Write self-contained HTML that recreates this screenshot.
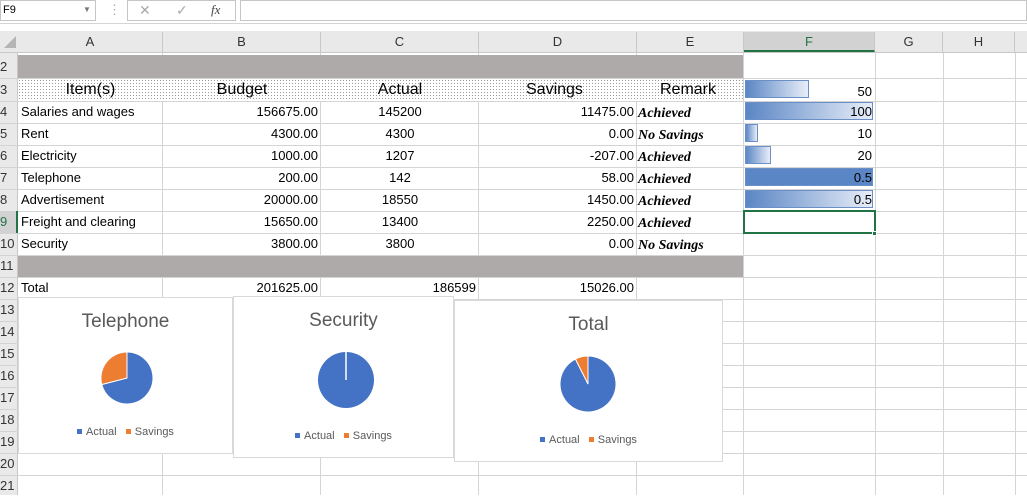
<!DOCTYPE html>
<html><head><meta charset="utf-8"><style>
*{margin:0;padding:0;box-sizing:border-box}
body{width:1027px;height:495px;overflow:hidden;background:#fff;font-family:"Liberation Sans",sans-serif;font-size:13px;color:#000;position:relative}
.a{position:absolute}
.vl{position:absolute;width:1px;background:#d4d4d4}
.hl{position:absolute;height:1px;background:#d4d4d4}
.t{position:absolute;white-space:nowrap;line-height:22px}
.r{text-align:right}
.c{text-align:center}
.rm{font-family:"Liberation Serif",serif;font-weight:bold;font-style:italic;font-size:14px}
.ch{position:absolute;top:32px;height:20px;line-height:20px;text-align:center;font-size:13px;color:#333;border-right:1px solid #c8c8c8}
.rn{position:absolute;left:0;width:18px;font-size:13px;color:#333;line-height:22px}
.bar{position:absolute;height:18px;border:1px solid #6b8fc7;background:linear-gradient(to right,#5b86c5,#e8eef8)}
.chart{position:absolute;background:#fff;border:1px solid #d9d9d9}
.ct{position:absolute;width:100%;text-align:center;font-size:19px;color:#595959}
.lg{position:absolute;width:100%;text-align:center;font-size:11px;color:#595959}
.sq{display:inline-block;width:5px;height:5px;margin-right:4px;vertical-align:1px}
</style></head><body>
<div class="a" style="left:0;top:0;width:1027px;height:24px;background:#fff;border-bottom:1px solid #d4d4d4"></div>
<div class="a" style="left:0;top:0;width:96px;height:21px;border:1px solid #c6c6c6"></div>
<div class="t" style="left:3px;top:-1px;font-size:11px;line-height:22px">F9</div>
<div class="t" style="left:83px;top:-1px;font-size:8px;color:#777">▼</div>
<div class="t" style="left:108px;top:-1px;color:#aaa">⋮</div>
<div class="a" style="left:127px;top:0;width:109px;height:21px;border:1px solid #c6c6c6"></div>
<div class="t" style="left:139px;top:-1px;color:#aaa;font-size:14px">✕</div>
<div class="t" style="left:176px;top:-1px;color:#aaa;font-size:14px">✓</div>
<div class="t" style="left:211px;top:-1px;color:#444;font-style:italic;font-family:'Liberation Serif',serif">fx</div>
<div class="a" style="left:240px;top:0;width:787px;height:21px;border:1px solid #c6c6c6"></div>
<div class="a" style="left:0;top:31px;width:1027px;height:22px;background:#e9e9e9;border-bottom:1px solid #c8c8c8"></div>
<div class="a" style="left:4px;top:36px;width:0;height:0;border-left:12px solid transparent;border-bottom:12px solid #b5b5b5"></div>
<div class="ch" style="left:18px;width:145px">A</div>
<div class="ch" style="left:163px;width:158px">B</div>
<div class="ch" style="left:321px;width:158px">C</div>
<div class="ch" style="left:479px;width:158px">D</div>
<div class="ch" style="left:637px;width:107px">E</div>
<div class="ch" style="left:744px;width:131px;background:#d2d2d2;border-bottom:2px solid #217346;color:#217346">F</div>
<div class="ch" style="left:875px;width:68px">G</div>
<div class="ch" style="left:943px;width:72px">H</div>
<div class="a" style="left:0;top:53px;width:18px;height:442px;background:#e9e9e9;border-right:1px solid #c8c8c8"></div>
<div class="vl" style="left:162px;top:53px;height:442px"></div>
<div class="vl" style="left:320px;top:53px;height:442px"></div>
<div class="vl" style="left:478px;top:53px;height:442px"></div>
<div class="vl" style="left:636px;top:53px;height:442px"></div>
<div class="vl" style="left:743px;top:53px;height:442px"></div>
<div class="vl" style="left:875px;top:53px;height:442px"></div>
<div class="vl" style="left:943px;top:53px;height:442px"></div>
<div class="vl" style="left:1015px;top:53px;height:442px"></div>
<div class="hl" style="left:0;top:78px;width:1027px"></div>
<div class="hl" style="left:0;top:101px;width:1027px"></div>
<div class="hl" style="left:0;top:123px;width:1027px"></div>
<div class="hl" style="left:0;top:145px;width:1027px"></div>
<div class="hl" style="left:0;top:167px;width:1027px"></div>
<div class="hl" style="left:0;top:189px;width:1027px"></div>
<div class="hl" style="left:0;top:211px;width:1027px"></div>
<div class="hl" style="left:0;top:233px;width:1027px"></div>
<div class="hl" style="left:0;top:255px;width:1027px"></div>
<div class="hl" style="left:0;top:277px;width:1027px"></div>
<div class="hl" style="left:0;top:299px;width:1027px"></div>
<div class="hl" style="left:0;top:321px;width:1027px"></div>
<div class="hl" style="left:0;top:343px;width:1027px"></div>
<div class="hl" style="left:0;top:365px;width:1027px"></div>
<div class="hl" style="left:0;top:387px;width:1027px"></div>
<div class="hl" style="left:0;top:409px;width:1027px"></div>
<div class="hl" style="left:0;top:431px;width:1027px"></div>
<div class="hl" style="left:0;top:453px;width:1027px"></div>
<div class="hl" style="left:0;top:475px;width:1027px"></div>
<div class="a" style="left:18px;top:55px;width:725px;height:23px;background:#aeaaaa"></div>
<div class="a" style="left:18px;top:256px;width:725px;height:21px;background:#aeaaaa"></div>
<div class="a" style="left:18px;top:79px;width:725px;height:22px;background-color:#fff;background-image:radial-gradient(#9a9a9a 0.6px,transparent 0.7px);background-size:3px 3px"></div>
<div class="rn" style="top:56px">2</div>
<div class="rn" style="top:79px">3</div>
<div class="rn" style="top:101px">4</div>
<div class="rn" style="top:123px">5</div>
<div class="rn" style="top:145px">6</div>
<div class="rn" style="top:167px">7</div>
<div class="rn" style="top:189px">8</div>
<div class="rn" style="top:211px;background:#d2d2d2;color:#217346;border-right:2px solid #217346">9</div>
<div class="rn" style="top:233px">10</div>
<div class="rn" style="top:255px">11</div>
<div class="rn" style="top:277px">12</div>
<div class="rn" style="top:299px">13</div>
<div class="rn" style="top:321px">14</div>
<div class="rn" style="top:343px">15</div>
<div class="rn" style="top:365px">16</div>
<div class="rn" style="top:387px">17</div>
<div class="rn" style="top:409px">18</div>
<div class="rn" style="top:431px">19</div>
<div class="rn" style="top:453px">20</div>
<div class="rn" style="top:475px">21</div>
<div class="t c" style="left:18px;top:79px;width:145px;font-size:16px">Item(s)</div>
<div class="t c" style="left:163px;top:79px;width:158px;font-size:16px">Budget</div>
<div class="t c" style="left:321px;top:79px;width:158px;font-size:16px">Actual</div>
<div class="t" style="left:526px;top:79px;font-size:16px">Savings</div>
<div class="t" style="left:660px;top:79px;font-size:16px">Remark</div>
<div class="t" style="left:21px;top:101px">Salaries and wages</div>
<div class="t" style="left:21px;top:123px">Rent</div>
<div class="t" style="left:21px;top:145px">Electricity</div>
<div class="t" style="left:21px;top:167px">Telephone</div>
<div class="t" style="left:21px;top:189px">Advertisement</div>
<div class="t" style="left:21px;top:211px">Freight and clearing</div>
<div class="t" style="left:21px;top:233px">Security</div>
<div class="t" style="left:21px;top:277px">Total</div>
<div class="t r" style="left:163px;top:101px;width:155px">156675.00</div>
<div class="t r" style="left:163px;top:123px;width:155px">4300.00</div>
<div class="t r" style="left:163px;top:145px;width:155px">1000.00</div>
<div class="t r" style="left:163px;top:167px;width:155px">200.00</div>
<div class="t r" style="left:163px;top:189px;width:155px">20000.00</div>
<div class="t r" style="left:163px;top:211px;width:155px">15650.00</div>
<div class="t r" style="left:163px;top:233px;width:155px">3800.00</div>
<div class="t r" style="left:163px;top:277px;width:155px">201625.00</div>
<div class="t c" style="left:321px;top:101px;width:158px">145200</div>
<div class="t c" style="left:321px;top:123px;width:158px">4300</div>
<div class="t c" style="left:321px;top:145px;width:158px">1207</div>
<div class="t c" style="left:321px;top:167px;width:158px">142</div>
<div class="t c" style="left:321px;top:189px;width:158px">18550</div>
<div class="t c" style="left:321px;top:211px;width:158px">13400</div>
<div class="t c" style="left:321px;top:233px;width:158px">3800</div>
<div class="t r" style="left:321px;top:277px;width:155px">186599</div>
<div class="t r" style="left:479px;top:101px;width:155px">11475.00</div>
<div class="t r" style="left:479px;top:123px;width:155px">0.00</div>
<div class="t r" style="left:479px;top:145px;width:155px">-207.00</div>
<div class="t r" style="left:479px;top:167px;width:155px">58.00</div>
<div class="t r" style="left:479px;top:189px;width:155px">1450.00</div>
<div class="t r" style="left:479px;top:211px;width:155px">2250.00</div>
<div class="t r" style="left:479px;top:233px;width:155px">0.00</div>
<div class="t r" style="left:479px;top:277px;width:155px">15026.00</div>
<div class="t rm" style="left:638px;top:103px">Achieved</div>
<div class="t rm" style="left:638px;top:125px">No Savings</div>
<div class="t rm" style="left:638px;top:147px">Achieved</div>
<div class="t rm" style="left:638px;top:169px">Achieved</div>
<div class="t rm" style="left:638px;top:191px">Achieved</div>
<div class="t rm" style="left:638px;top:213px">Achieved</div>
<div class="t rm" style="left:638px;top:235px">No Savings</div>
<div class="bar" style="left:745px;top:80px;width:64px"></div>
<div class="bar" style="left:745px;top:102px;width:128px"></div>
<div class="bar" style="left:745px;top:124px;width:13px"></div>
<div class="bar" style="left:745px;top:146px;width:26px"></div>
<div class="bar" style="left:745px;top:168px;width:128px;background:#5b86c5"></div>
<div class="bar" style="left:745px;top:190px;width:128px"></div>
<div class="t r" style="left:745px;top:81px;width:127px">50</div>
<div class="t r" style="left:745px;top:101px;width:127px">100</div>
<div class="t r" style="left:745px;top:123px;width:127px">10</div>
<div class="t r" style="left:745px;top:145px;width:127px">20</div>
<div class="t r" style="left:745px;top:167px;width:127px">0.5</div>
<div class="t r" style="left:745px;top:189px;width:127px">0.5</div>
<div class="a" style="left:743px;top:210px;width:133px;height:24px;border:2px solid #217346"></div>
<div class="a" style="left:872px;top:231px;width:5px;height:5px;background:#217346;border:1px solid #fff"></div>
<div class="chart" style="left:18px;top:297px;width:215px;height:157px">
 <div class="ct" style="top:13px">Telephone</div>
 <svg class="a" style="left:0;top:0" width="215" height="157">
  <path d="M108 54 A26 26 0 1 1 82.8 86.5 L108 80 Z" fill="#4472c4" stroke="#fff" stroke-width="1"/>
  <path d="M108 54 L108 80 L82.8 86.5 A26 26 0 0 1 108 54 Z" fill="#ed7d31" stroke="#fff" stroke-width="1"/>
 </svg>
 <div class="lg" style="top:128px"><span class="sq" style="background:#4472c4"></span>Actual &nbsp; <span class="sq" style="background:#ed7d31"></span>Savings</div>
</div>
<div class="chart" style="left:233px;top:296px;width:221px;height:162px">
 <div class="ct" style="top:13px">Security</div>
 <svg class="a" style="left:0;top:0" width="221" height="162">
  <circle cx="112" cy="83" r="28" fill="#4472c4"/>
  <line x1="112" y1="55" x2="112" y2="83" stroke="#fff" stroke-width="1.5"/>
 </svg>
 <div class="lg" style="top:133px"><span class="sq" style="background:#4472c4"></span>Actual &nbsp; <span class="sq" style="background:#ed7d31"></span>Savings</div>
</div>
<div class="chart" style="left:454px;top:300px;width:269px;height:162px">
 <div class="ct" style="top:13px">Total</div>
 <svg class="a" style="left:0;top:0" width="269" height="162">
  <path d="M133 55 A28 28 0 1 1 120.4 58 L133 83 Z" fill="#4472c4" stroke="#fff" stroke-width="1"/>
  <path d="M133 55 L133 83 L120.4 58 A28 28 0 0 1 133 55 Z" fill="#ed7d31" stroke="#fff" stroke-width="1"/>
 </svg>
 <div class="lg" style="top:133px"><span class="sq" style="background:#4472c4"></span>Actual &nbsp; <span class="sq" style="background:#ed7d31"></span>Savings</div>
</div>
</body></html>
